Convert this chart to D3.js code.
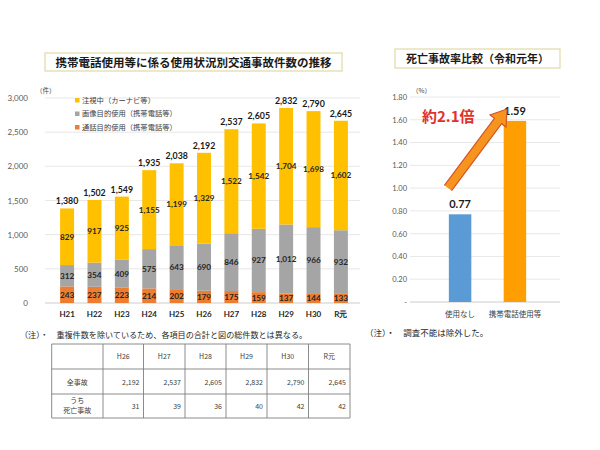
<!DOCTYPE html>
<html>
<head>
<meta charset="utf-8">
<script src="https://cdn.jsdelivr.net/npm/d3@7"></script>
<style>
  body { margin: 0; background: #fff; }
  svg { display: block; font-family: "Noto Sans CJK JP", sans-serif; }
</style>
</head>
<body>
<div id="vis"></div>
<script>
// data
const years = ["H21", "H22", "H23", "H24", "H25", "H26", "H27", "H28", "H29", "H30", "R元"];
const callUse = [243, 237, 223, 214, 202, 179, 175, 159, 137, 144, 133];
const screenUse = [312, 354, 409, 575, 643, 690, 846, 927, 1012, 966, 932];
const watching = [829, 917, 925, 1155, 1199, 1329, 1522, 1542, 1704, 1698, 1602];
const totals = [1380, 1502, 1549, 1935, 2038, 2192, 2537, 2605, 2832, 2790, 2645];
const seriesNames = ["通話目的使用（携帯電話等）", "画像目的使用（携帯電話等）", "注視中（カーナビ等）"];
const leftTicks = [0, 500, 1000, 1500, 2000, 2500, 3000];

const rateCats = ["使用なし", "携帯電話使用等"];
const rates = [0.77, 1.59];
const rateTicks = [0, 0.2, 0.4, 0.6, 0.8, 1.0, 1.2, 1.4, 1.6, 1.8];

const tableYears = ["H26", "H27", "H28", "H29", "H30", "R元"];
const allAccidents = ["2,192", "2,537", "2,605", "2,832", "2,790", "2,645"];
const fatalAccidents = [31, 39, 36, 40, 42, 42];

const colors = ["#ED7D31", "#A5A5A5", "#FFC000"];
const numFont = "Lato, 'Noto Sans', sans-serif";

const svg = d3.select("#vis").append("svg")
  .attr("width", 600).attr("height", 450);

svg.append("rect").attr("width", 600).attr("height", 450).attr("fill", "#fff");

// ---------- left chart ----------
// title box
svg.append("rect")
  .attr("x", 45).attr("y", 53).attr("width", 297).attr("height", 18)
  .attr("fill", "#fff").attr("stroke", "#e3d9a8").attr("stroke-width", 1.2);
svg.append("text")
  .attr("x", 193.5).attr("y", 66.5)
  .attr("text-anchor", "middle")
  .attr("font-size", 11.5).attr("font-weight", "bold").attr("fill", "#1a1a1a")
  .text("携帯電話使用等に係る使用状況別交通事故件数の推移");

const x = d3.scaleBand().domain(years).range([46.7, 361.3]).padding(0.49);
const y = d3.scaleLinear().domain([0, 3000]).range([303, 98]);

// gridlines
svg.append("g")
  .selectAll("line")
  .data(leftTicks)
  .join("line")
  .attr("x1", 45).attr("x2", 360)
  .attr("y1", d => y(d)).attr("y2", d => y(d))
  .attr("stroke", d => d === 0 ? "#bfbfbf" : "#e2e2e2").attr("stroke-width", 0.8);

// y axis
svg.append("g")
  .attr("transform", "translate(31,0)")
  .call(d3.axisLeft(y).tickValues(leftTicks).tickSize(0).tickFormat(d3.format(",")))
  .call(g => g.select(".domain").remove())
  .call(g => g.selectAll("text")
    .attr("font-family", numFont).attr("font-size", 8).attr("fill", "#595959"));

svg.append("text")
  .attr("x", 36).attr("y", 93)
  .attr("font-size", 6.5).attr("fill", "#404040")
  .text("（件）");

// stacked bars
const rows = years.map((yr, i) => ({ year: yr, a: callUse[i], b: screenUse[i], c: watching[i] }));
const stack = d3.stack().keys(["a", "b", "c"])(rows);

const layer = svg.append("g")
  .selectAll("g")
  .data(stack)
  .join("g")
  .attr("fill", (d, i) => colors[i]);

layer.selectAll("rect")
  .data(d => d)
  .join("rect")
  .attr("x", d => x(d.data.year))
  .attr("y", d => y(d[1]))
  .attr("width", x.bandwidth())
  .attr("height", d => y(d[0]) - y(d[1]));

layer.selectAll("text")
  .data(d => d)
  .join("text")
  .attr("x", d => x(d.data.year) + x.bandwidth() / 2)
  .attr("y", d => (y(d[0]) + y(d[1])) / 2 + 3)
  .attr("text-anchor", "middle")
  .attr("font-family", numFont).attr("font-weight", "bold")
  .attr("font-size", 8.2).attr("fill", "#262626")
  .text(d => d3.format(",")(d[1] - d[0]));

// totals above bars
svg.append("g")
  .selectAll("text")
  .data(rows)
  .join("text")
  .attr("x", d => x(d.year) + x.bandwidth() / 2)
  .attr("y", d => y(d.a + d.b + d.c) - 4)
  .attr("text-anchor", "middle")
  .attr("font-family", numFont).attr("font-weight", "bold")
  .attr("font-size", 8.8).attr("fill", "#1a1a1a")
  .text((d, i) => d3.format(",")(totals[i]));

// x axis labels
svg.append("g")
  .attr("transform", "translate(0,303)")
  .call(d3.axisBottom(x).tickSize(0).tickPadding(8))
  .call(g => g.select(".domain").remove())
  .call(g => g.selectAll("text")
    .attr("font-family", numFont).attr("font-weight", "bold")
    .attr("font-size", 8).attr("fill", "#262626"));

// legend
const legend = svg.append("g")
  .selectAll("g")
  .data(seriesNames.slice().reverse())
  .join("g")
  .attr("transform", (d, i) => `translate(75,${102 + i * 13.5})`);
legend.append("rect")
  .attr("x", 0).attr("y", -4).attr("width", 4.5).attr("height", 4.5)
  .attr("fill", (d, i) => colors[2 - i]);
legend.append("text")
  .attr("x", 7).attr("y", 0.8)
  .attr("font-size", 7.3).attr("fill", "#404040")
  .text(d => d);

// note
svg.append("text")
  .attr("x", 20).attr("y", 338)
  .attr("font-size", 8.1).attr("fill", "#262626")
  .text("（注）・　重複件数を除いているため、各項目の合計と図の総件数とは異なる。");

// table
const colX = [51.7, 103, 143.5, 185, 226, 267, 308.5, 350];
const rowY = [344, 369, 394, 418];
const table = svg.append("g");
rowY.forEach(v => table.append("line")
  .attr("x1", colX[0]).attr("x2", colX[colX.length - 1])
  .attr("y1", v).attr("y2", v)
  .attr("stroke", "#7f7f7f").attr("stroke-width", 0.9));
colX.forEach(v => table.append("line")
  .attr("x1", v).attr("x2", v)
  .attr("y1", rowY[0]).attr("y2", rowY[rowY.length - 1])
  .attr("stroke", "#7f7f7f").attr("stroke-width", 0.9));

table.selectAll("text.hd")
  .data(tableYears)
  .join("text")
  .attr("class", "hd")
  .attr("x", (d, i) => (colX[i + 1] + colX[i + 2]) / 2)
  .attr("y", 359)
  .attr("text-anchor", "middle")
  .attr("font-size", 7).attr("fill", "#404040")
  .text(d => d);

table.selectAll("text.all")
  .data(allAccidents)
  .join("text")
  .attr("class", "all")
  .attr("x", (d, i) => colX[i + 2] - 4)
  .attr("y", 384.5)
  .attr("text-anchor", "end")
  .attr("font-size", 7).attr("fill", "#404040")
  .text(d => d);

table.selectAll("text.fatal")
  .data(fatalAccidents)
  .join("text")
  .attr("class", "fatal")
  .attr("x", (d, i) => colX[i + 2] - 4)
  .attr("y", 409)
  .attr("text-anchor", "end")
  .attr("font-size", 7).attr("fill", "#404040")
  .text(d => d);

table.append("text")
  .attr("x", (colX[0] + colX[1]) / 2).attr("y", 384.5)
  .attr("text-anchor", "middle").attr("font-size", 7).attr("fill", "#404040")
  .text("全事故");
table.append("text")
  .attr("x", (colX[0] + colX[1]) / 2).attr("y", 403)
  .attr("text-anchor", "middle").attr("font-size", 7).attr("fill", "#404040")
  .text("うち");
table.append("text")
  .attr("x", (colX[0] + colX[1]) / 2).attr("y", 413)
  .attr("text-anchor", "middle").attr("font-size", 7).attr("fill", "#404040")
  .text("死亡事故");

// ---------- right chart ----------
svg.append("rect")
  .attr("x", 395).attr("y", 49).attr("width", 165).attr("height", 19)
  .attr("fill", "#fff").attr("stroke", "#e3d9a8").attr("stroke-width", 1.2);
svg.append("text")
  .attr("x", 477.5).attr("y", 62.5)
  .attr("text-anchor", "middle")
  .attr("font-size", 11).attr("font-weight", "bold").attr("fill", "#1a1a1a")
  .text("死亡事故率比較（令和元年）");

const x2 = d3.scaleBand().domain(rateCats).range([416.5, 558.5]).padding(0.59);
const y2 = d3.scaleLinear().domain([0, 1.8]).range([302, 97]);

svg.append("g")
  .selectAll("line")
  .data(rateTicks)
  .join("line")
  .attr("x1", 410).attr("x2", 560)
  .attr("y1", d => y2(d)).attr("y2", d => y2(d))
  .attr("stroke", d => d === 0 ? "#bfbfbf" : "#e2e2e2").attr("stroke-width", 0.8);

svg.append("g")
  .attr("transform", "translate(410,0)")
  .call(d3.axisLeft(y2).tickValues(rateTicks).tickSize(0)
    .tickFormat(d => d === 0 ? "-" : d3.format(".2f")(d)))
  .call(g => g.select(".domain").remove())
  .call(g => g.selectAll("text")
    .attr("font-family", numFont).attr("font-size", 7.5).attr("fill", "#595959"));

svg.append("text")
  .attr("x", 412).attr("y", 93)
  .attr("font-size", 6.5).attr("fill", "#404040")
  .text("（%）");

svg.append("g")
  .selectAll("rect")
  .data(rates)
  .join("rect")
  .attr("x", (d, i) => x2(rateCats[i]))
  .attr("y", d => y2(d))
  .attr("width", x2.bandwidth())
  .attr("height", d => y2(0) - y2(d))
  .attr("fill", (d, i) => i === 0 ? "#5B9BD5" : "#FF9E00");

svg.append("g")
  .selectAll("text")
  .data(rates)
  .join("text")
  .attr("x", (d, i) => x2(rateCats[i]) + x2.bandwidth() / 2)
  .attr("y", d => y2(d) - 6)
  .attr("text-anchor", "middle")
  .attr("font-family", numFont).attr("font-weight", "bold")
  .attr("font-size", 11).attr("fill", "#1a1a1a")
  .text(d => d3.format(".2f")(d));

svg.append("g")
  .attr("transform", "translate(0,302)")
  .call(d3.axisBottom(x2).tickSize(0).tickPadding(10))
  .call(g => g.select(".domain").remove())
  .call(g => g.selectAll("text")
    .attr("font-family", "'Noto Sans CJK JP', sans-serif")
    .attr("font-size", 7.5).attr("fill", "#404040"));

// arrow from the low bar toward the high bar
const ax0 = 448, ay0 = 188, ax1 = 507, ay1 = 109;
const ang = Math.atan2(ay1 - ay0, ax1 - ax0);
const len = Math.hypot(ax1 - ax0, ay1 - ay0);
const shaft = 4.5, head = 10, headLen = 15;
const arrowPts = [
  [0, -shaft], [len - headLen, -shaft], [len - headLen, -head],
  [len, 0], [len - headLen, head], [len - headLen, shaft], [0, shaft]
];
svg.append("path")
  .attr("d", d3.line()(arrowPts))
  .attr("transform", `translate(${ax0},${ay0}) rotate(${ang * 180 / Math.PI})`)
  .attr("fill", "#F7941D").attr("stroke", "#D4572A").attr("stroke-width", 1.2)
  .attr("stroke-linejoin", "miter");

svg.append("text")
  .attr("x", 422).attr("y", 122)
  .attr("font-size", 15).attr("font-weight", "bold").attr("fill", "#E0312E")
  .text("約2.1倍");

svg.append("text")
  .attr("x", 365).attr("y", 336)
  .attr("font-size", 8.5).attr("fill", "#262626")
  .text("（注）・　調査不能は除外した。");
</script>
</body>
</html>
